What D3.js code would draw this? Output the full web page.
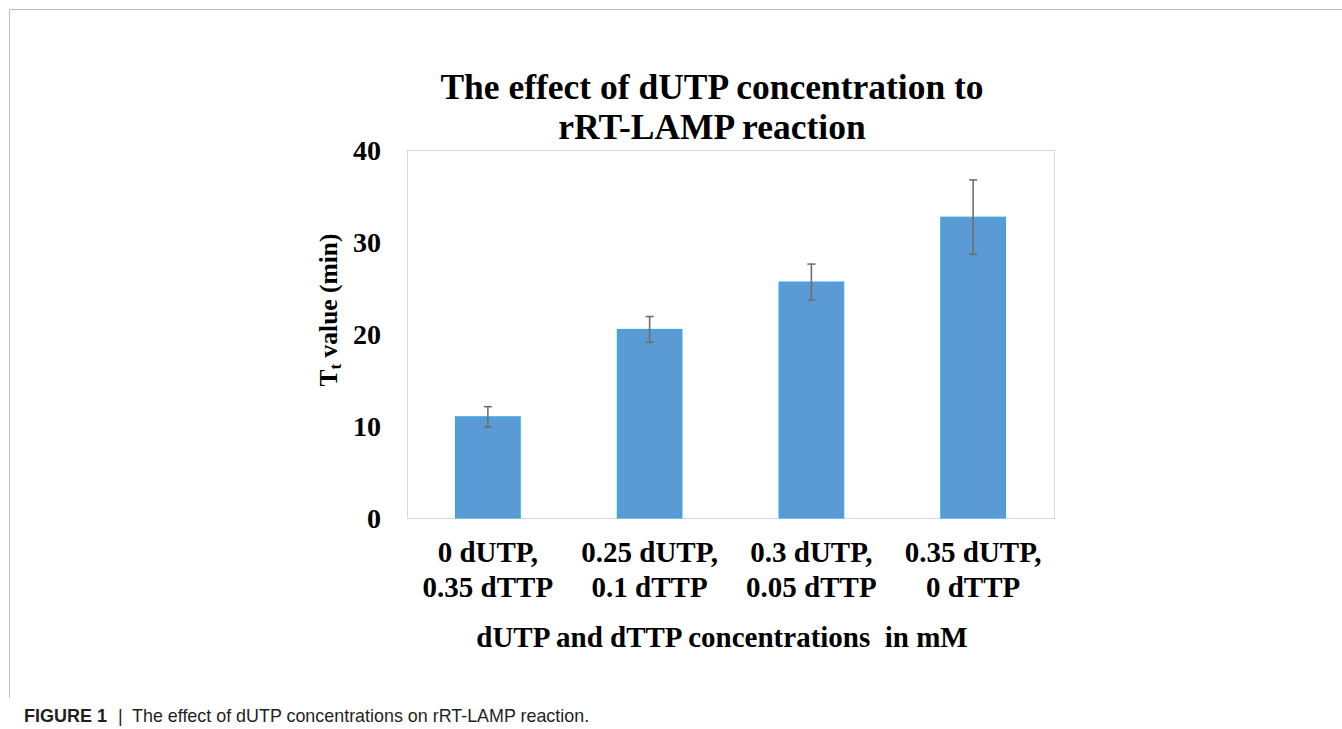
<!DOCTYPE html>
<html>
<head>
<meta charset="utf-8">
<script src="https://d3js.org/d3.v7.min.js"></script>
<style>
  html, body { margin: 0; padding: 0; background: #fff; }
  svg { display: block; }
  .serif { font-family: "Liberation Serif", "Times New Roman", serif; font-weight: bold; fill: #000; }
</style>
</head>
<body>
<svg id="chart" width="1342" height="729"></svg>
<script>
const categories = ["0 dUTP,|0.35 dTTP", "0.25 dUTP,|0.1 dTTP", "0.3 dUTP,|0.05 dTTP", "0.35 dUTP,|0 dTTP"];
const ttValues = [11.0, 20.5, 25.65, 32.7];
const ttErrors = [1.1, 1.4, 1.95, 4.05];
const yTicks = [0, 10, 20, 30, 40];
const titleLines = ["The effect of dUTP concentration to", "rRT-LAMP reaction"];
const xAxisTitle = "dUTP and dTTP concentrations  in mM";
const captionBold = "FIGURE 1";
const captionText = "The effect of dUTP concentrations on rRT-LAMP reaction.";

const svg = d3.select("#chart");

// outer figure frame
svg.append("path")
  .attr("d", "M9.5,698 V9.5 H1342")
  .attr("fill", "none").attr("stroke", "#c0c0c0").attr("stroke-width", 1);

const plot = { left: 407, right: 1054, top: 150, bottom: 518 };

const x = d3.scaleBand().domain(categories).range([plot.left, plot.right]).paddingInner(0.6).paddingOuter(0.3);
const y = d3.scaleLinear().domain([0, 40]).range([plot.bottom, plot.top]);

// plot border
svg.append("rect")
  .attr("x", plot.left + 0.5).attr("y", plot.top + 0.5)
  .attr("width", plot.right - plot.left).attr("height", plot.bottom - plot.top)
  .attr("fill", "none").attr("stroke", "#d9d9d9").attr("stroke-width", 1);

// bars
const data = categories.map((c, i) => ({ c, v: ttValues[i], e: ttErrors[i] }));
svg.append("g").selectAll("rect").data(data).join("rect")
  .attr("x", d => x(d.c))
  .attr("y", d => y(d.v))
  .attr("width", x.bandwidth())
  .attr("height", d => y(0) - y(d.v))
  .attr("fill", "#5b9bd5")
  .attr("stroke", "#2aa7e6").attr("stroke-width", 1);

// error bars
const eg = svg.append("g").attr("stroke", "#6e6e6e").attr("stroke-width", 1.6);
data.forEach(d => {
  const cx = x(d.c) + x.bandwidth() / 2;
  eg.append("line").attr("x1", cx).attr("x2", cx).attr("y1", y(d.v + d.e)).attr("y2", y(d.v - d.e));
  eg.append("line").attr("x1", cx - 4).attr("x2", cx + 4).attr("y1", y(d.v + d.e)).attr("y2", y(d.v + d.e));
  eg.append("line").attr("x1", cx - 4).attr("x2", cx + 4).attr("y1", y(d.v - d.e)).attr("y2", y(d.v - d.e));
});

// y axis
const yAxis = d3.axisLeft(y).tickValues(yTicks).tickSize(0).tickPadding(26);
const yg = svg.append("g").attr("transform", `translate(${plot.left},0)`).call(yAxis);
yg.select(".domain").remove();
yg.selectAll("text").attr("class", "serif").style("font-size", "28px").attr("dy", "0.34em");

// x axis
const xAxis = d3.axisBottom(x).tickSize(0).tickFormat("");
const xg = svg.append("g").attr("transform", `translate(0,${plot.bottom})`).call(xAxis);
xg.select(".domain").remove();
xg.selectAll(".tick").each(function(d) {
  const parts = d.split("|");
  const t = d3.select(this).append("text").attr("class", "serif")
    .attr("text-anchor", "middle").style("font-size", "29px");
  parts.forEach((p, i) => t.append("tspan").attr("x", 0).attr("y", 44 + i * 35).text(p));
});

// title
const tt = svg.append("text").attr("class", "serif").attr("text-anchor", "middle").style("font-size", "35.5px");
titleLines.forEach((l, i) => tt.append("tspan").attr("x", 712).attr("y", 99 + i * 40).text(l));

// x axis title
svg.append("text").attr("class", "serif").attr("text-anchor", "middle").style("font-size", "29px")
  .attr("x", 722).attr("y", 647).text(xAxisTitle).style("white-space", "pre");

// y axis title
const yt = svg.append("text").attr("class", "serif").attr("text-anchor", "middle").style("font-size", "25.5px")
  .attr("transform", "translate(337,310) rotate(-90)");
yt.append("tspan").text("T");
yt.append("tspan").attr("dy", "0.25em").style("font-size", "17px").text("t");
yt.append("tspan").attr("dy", "-0.17em").text(" value (min)");

// caption
const capFont = "'Liberation Sans', Arial, sans-serif";
svg.append("text").attr("x", 24).attr("y", 722)
  .style("font-family", capFont).style("font-size", "18px").style("font-weight", "bold")
  .attr("fill", "#231f20").text(captionBold);
svg.append("text").attr("x", 118).attr("y", 722)
  .style("font-family", capFont).style("font-size", "18px")
  .attr("fill", "#231f20").text("|");
svg.append("text").attr("x", 132).attr("y", 722)
  .style("font-family", capFont).style("font-size", "17.9px")
  .attr("fill", "#231f20").text(captionText);
</script>
</body>
</html>
